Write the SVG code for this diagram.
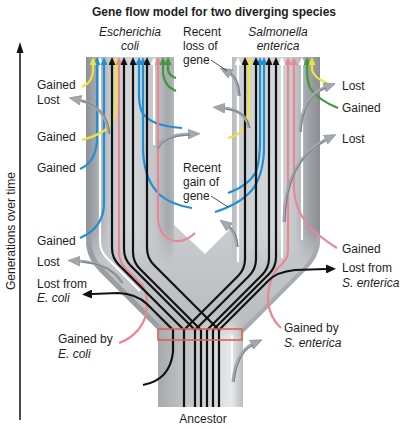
<svg xmlns="http://www.w3.org/2000/svg" width="414" height="429" viewBox="0 0 414 429">
<style>
text { font-family: "Liberation Sans", Arial, sans-serif; font-size: 12px; fill: #1e1e1e; }
.it { font-style: italic; }
.title { font-weight: bold; }
.ln { fill: none; stroke-width: 2.2; }
.k { stroke: #111; marker-end: url(#mk-k); }
.kt { fill: none; stroke: #111; stroke-width: 2.2; }
.w { stroke: #fff; marker-end: url(#mk-w); }
.y { stroke: #f2e23c; marker-end: url(#mk-y); }
.b { stroke: #1f8fd8; marker-end: url(#mk-b); }
.g { stroke: #3f9a3c; marker-end: url(#mk-g); }
.p { stroke: #ea8793; marker-end: url(#mk-p); }
.lost { fill: none; stroke: #111; stroke-width: 2.2; marker-end: url(#mk-kb); }
.ga { fill: none; stroke: #a2a8ad; stroke-width: 3.2; marker-end: url(#mk-gray); }
.gd { fill: none; stroke: #62686d; stroke-width: 0.7; }
.lead { fill: none; stroke: #222; stroke-width: 0.8; }
</style>
<defs>
<marker id="mk-k" markerUnits="userSpaceOnUse" markerWidth="8" markerHeight="7" viewBox="0 0 8 7" refX="0" refY="3.5" orient="auto"><path d="M0,0 L8,3.5 L0,7 Z" fill="#111"/></marker>
<marker id="mk-w" markerUnits="userSpaceOnUse" markerWidth="8" markerHeight="7" viewBox="0 0 8 7" refX="0" refY="3.5" orient="auto"><path d="M0,0 L8,3.5 L0,7 Z" fill="#fff"/></marker>
<marker id="mk-y" markerUnits="userSpaceOnUse" markerWidth="8" markerHeight="7" viewBox="0 0 8 7" refX="0" refY="3.5" orient="auto"><path d="M0,0 L8,3.5 L0,7 Z" fill="#f2e23c"/></marker>
<marker id="mk-b" markerUnits="userSpaceOnUse" markerWidth="8" markerHeight="7" viewBox="0 0 8 7" refX="0" refY="3.5" orient="auto"><path d="M0,0 L8,3.5 L0,7 Z" fill="#1f8fd8"/></marker>
<marker id="mk-g" markerUnits="userSpaceOnUse" markerWidth="8" markerHeight="7" viewBox="0 0 8 7" refX="0" refY="3.5" orient="auto"><path d="M0,0 L8,3.5 L0,7 Z" fill="#3f9a3c"/></marker>
<marker id="mk-p" markerUnits="userSpaceOnUse" markerWidth="8" markerHeight="7" viewBox="0 0 8 7" refX="0" refY="3.5" orient="auto"><path d="M0,0 L8,3.5 L0,7 Z" fill="#ea8793"/></marker>
<marker id="mk-kb" markerUnits="userSpaceOnUse" markerWidth="10" markerHeight="9" viewBox="0 0 10 9" refX="0" refY="4.5" orient="auto"><path d="M0,0 L10,4.5 L0,9 Z" fill="#111"/></marker>
<marker id="mk-gray" markerUnits="userSpaceOnUse" markerWidth="12" markerHeight="10" viewBox="0 0 12 10" refX="2" refY="5" orient="auto"><path d="M0,0 L12,5 L0,10 Z" fill="#a2a8ad" stroke="#7d8388" stroke-width="0.5"/></marker>
<clipPath id="shape"><path d="M86,57 H174 V225 L205,254 L232,227 V57 H320 V240 Q320,256 306,270 L243,333 V407 H158 V330 L100,272 Q86,258 86,240 Z"/></clipPath>
<linearGradient id="baseG" gradientUnits="userSpaceOnUse" x1="0" y1="230" x2="0" y2="340"><stop offset="0" stop-color="#c9cccf"/><stop offset="1" stop-color="#b6babd"/></linearGradient>
<linearGradient id="leftG" gradientUnits="userSpaceOnUse" x1="86" y1="0" x2="174" y2="0"><stop offset="0" stop-color="#8d9195"/><stop offset="0.12" stop-color="#a6aaad"/><stop offset="0.28" stop-color="#c8cbce"/><stop offset="0.55" stop-color="#d4d7d9"/><stop offset="0.8" stop-color="#c0c4c7"/><stop offset="0.93" stop-color="#a5a9ad"/><stop offset="1" stop-color="#b2b6b9"/></linearGradient>
<linearGradient id="rightG" gradientUnits="userSpaceOnUse" x1="232" y1="0" x2="320" y2="0"><stop offset="0" stop-color="#b8bcbf"/><stop offset="0.1" stop-color="#cdd0d2"/><stop offset="0.5" stop-color="#d5d8da"/><stop offset="0.72" stop-color="#c2c6c9"/><stop offset="0.86" stop-color="#a0a4a8"/><stop offset="1" stop-color="#8a8e92"/></linearGradient>
<linearGradient id="trunkG" gradientUnits="userSpaceOnUse" x1="158" y1="0" x2="243" y2="0"><stop offset="0" stop-color="#a6aaad"/><stop offset="0.3" stop-color="#bec2c5"/><stop offset="0.72" stop-color="#dadde0"/><stop offset="0.86" stop-color="#e7e9ea"/><stop offset="1" stop-color="#b9bdc0"/></linearGradient>
<linearGradient id="fadeTop" gradientUnits="userSpaceOnUse" x1="0" y1="228" x2="0" y2="266"><stop offset="0" stop-color="#fff"/><stop offset="1" stop-color="#000"/></linearGradient>
<linearGradient id="fadeTrunk" gradientUnits="userSpaceOnUse" x1="0" y1="312" x2="0" y2="338"><stop offset="0" stop-color="#000"/><stop offset="1" stop-color="#fff"/></linearGradient>
<mask id="mTubes" maskUnits="userSpaceOnUse" x="0" y="0" width="414" height="429"><rect width="414" height="429" fill="url(#fadeTop)"/></mask>
<mask id="mTrunk" maskUnits="userSpaceOnUse" x="0" y="0" width="414" height="429"><rect width="414" height="429" fill="url(#fadeTrunk)"/></mask>
</defs>
<rect width="414" height="429" fill="#fff"/>
<text class="title" x="214" y="16" text-anchor="middle">Gene flow model for two diverging species</text>
<g id="axis">
<line x1="20" y1="420" x2="20" y2="52" stroke="#111" stroke-width="1.5"/>
<path d="M20,42 L16.5,53 L23.5,53 Z" fill="#111"/>
<text transform="translate(15,231) rotate(-90)" text-anchor="middle">Generations over time</text>
</g>
<g id="tubes" clip-path="url(#shape)">
<rect x="80" y="50" width="250" height="365" fill="url(#baseG)"/>
<g mask="url(#mTubes)">
<rect x="86" y="57" width="88" height="215" fill="url(#leftG)"/>
<rect x="232" y="57" width="88" height="215" fill="url(#rightG)"/>
</g>
<path d="M86,236 Q86,258 100,272 L160,332" fill="none" stroke="#9a9ea2" stroke-width="10"/>
<path d="M320,236 Q320,256 306,270 L241,335" fill="none" stroke="#a7abaf" stroke-width="8"/>
<rect x="158" y="300" width="85" height="107" fill="url(#trunkG)" mask="url(#mTrunk)"/>
<path d="M232,335 V381" stroke="#fff" stroke-width="2" opacity="0.85"/>
</g>
<g id="connectors">
<g id="left-lines">
<path class="ln w" d="M140,291 L107,258 Q100,251 100,241 V65"/>
<path class="ln w" d="M154,145 V65"/>
<path class="ln b" d="M80,169 Q96,162 97,140 V65"/>
<path class="ln b" d="M80,238 Q103,228 104,205 V65"/>
<path class="ln b" d="M182,128 Q150,126 142,112 Q139,105 139,95 V65"/>
<path class="ln b" d="M192,208 Q172,205 160,195 Q144,180 143,150 V65"/>
<path class="ln y" d="M82,87 Q93,82 93,70 V65"/>
<path class="ln y" d="M82,140 Q104,134 111,124 Q116,116 116,100 V65"/>
<path class="ln p" d="M119,343 Q138,336 145,318 Q150,300 143,286 L126,269 Q119,262 119,252 V65"/>
<path class="ln p" d="M195,233 Q186,242 175,241 Q160,238 158,220 V65"/>
<path class="ln g" d="M176,91 Q165,87 163,74 V65"/>
<path class="ln g" d="M176,78 Q169,76 168,70 V65"/>
<path class="ln k" d="M184,330 L119,265 Q112,258 112,248 V65"/>
<path class="ln k" d="M195,330 L131,266 Q124,259 124,249 V65"/>
<path class="ln k" d="M201,330 L140,269 Q133,262 133,252 V65"/>
<path class="ln k" d="M219,330 L154,265 Q147,258 147,248 V65"/>
</g>
<g id="right-lines">
<path class="ln w" d="M238,262 V65"/>
<path class="ln w" d="M282,258 V65"/>
<path class="ln w" d="M302,240 V65"/>
<path class="ln y" d="M228,138 Q244,134 248,122 Q249,115 249,100 V65"/>
<path class="ln b" d="M228,193 Q248,186 256,172 Q260,160 260,140 V65"/>
<path class="ln b" d="M215,212 Q240,204 252,190 Q263,176 264,150 V65"/>
<path class="ln p" d="M281,328 Q270,318 268,302 Q267,285 276,270 L283,263 Q288,258 288,250 V65"/>
<path class="ln p" d="M337,248 Q327,242 315,232 Q296,215 294,190 V65"/>
<path class="ln g" d="M338,108 Q318,100 310,88 Q307,80 307,70 V65"/>
<path class="ln y" d="M327,83 Q314,78 312,70 V65"/>
<path class="ln k" d="M184,330 L238,276 Q245,269 245,259 V65"/>
<path class="ln k" d="M195,330 L249,276 Q256,269 256,259 V65"/>
<path class="ln k" d="M207,330 L262,275 Q269,268 269,258 V65"/>
<path class="ln k" d="M213,330 L269,274 Q276,267 276,257 V65"/>
</g>
<g id="trunk-lines">
<path class="kt" d="M184,330 V407 M195,330 V407 M201,330 V407 M207,330 V407 M213,330 V407 M219,330 V407"/>
<path class="lost" d="M143,385 Q170,380 173,352 V330 L147,304 Q137,294 118,293 L92,294"/>
<path class="lost" d="M219,330 L268,281 Q276,272 295,270 L326,269"/>
</g>
<g id="gray-arrows">
<path class="ga" d="M109,134 Q106,106 79,100"/>
<path class="ga" d="M122,283 Q110,263 78,261"/>
<path class="ga" d="M157,148 Q162,135 190,134"/>
<path class="ga" d="M249,128 Q246,110 223,108"/>
<path class="ga" d="M239,96 Q238,78 229,73"/>
<path class="ga" d="M237,247 Q236,232 228,226"/>
<path class="ga" d="M300,132 Q302,96 326,87"/>
<path class="ga" d="M284,222 Q285,160 327,139"/>
<path class="ga" d="M233,382 Q236,352 253,344"/>
<path class="gd" d="M110,134 Q107,107 82,101"/>
<path class="gd" d="M123,283 Q111,264 82,262"/>
<path class="gd" d="M158,149 Q163,136 190,135"/>
<path class="gd" d="M250,128 Q247,111 226,109"/>
<path class="gd" d="M240,96 Q239,79 231,74"/>
<path class="gd" d="M238,247 Q237,233 230,227"/>
<path class="gd" d="M301,132 Q303,97 326,88"/>
<path class="gd" d="M285,222 Q286,161 325,141"/>
<path class="gd" d="M234,382 Q237,353 253,345"/>
</g>
<path class="lead" d="M211,60 L227,71"/>
<path class="lead" d="M211,196 L228,207"/>
</g>
<rect id="ancestor-box" x="158" y="329" width="84" height="11" fill="none" stroke="#e0604f" stroke-width="1.6"/>
<g id="labels-top">
<text class="it" x="130" y="36" text-anchor="middle">Escherichia</text>
<text class="it" x="130" y="50" text-anchor="middle">coli</text>
<text class="it" x="278" y="36" text-anchor="middle">Salmonella</text>
<text class="it" x="278" y="50" text-anchor="middle">enterica</text>
<text x="183" y="36">Recent</text>
<text x="183" y="50">loss of</text>
<text x="183" y="64">gene</text>
<text x="183" y="172">Recent</text>
<text x="183" y="186">gain of</text>
<text x="183" y="200">gene</text>
</g>
<g id="labels-left">
<text x="37" y="89">Gained</text>
<text x="37" y="104">Lost</text>
<text x="37" y="141">Gained</text>
<text x="37" y="172">Gained</text>
<text x="37" y="245">Gained</text>
<text x="37" y="266">Lost</text>
<text x="37" y="288">Lost from</text>
<text class="it" x="37" y="302">E. coli</text>
<text x="58" y="343">Gained by</text>
<text class="it" x="58" y="358">E. coli</text>
</g>
<g id="labels-right">
<text x="342" y="90">Lost</text>
<text x="342" y="112">Gained</text>
<text x="342" y="143">Lost</text>
<text x="342" y="253">Gained</text>
<text x="342" y="272">Lost from</text>
<text class="it" x="342" y="287">S. enterica</text>
<text x="284" y="332">Gained by</text>
<text class="it" x="284" y="347">S. enterica</text>
</g>
<text id="ancestor" x="203" y="423" text-anchor="middle">Ancestor</text>
</svg>
